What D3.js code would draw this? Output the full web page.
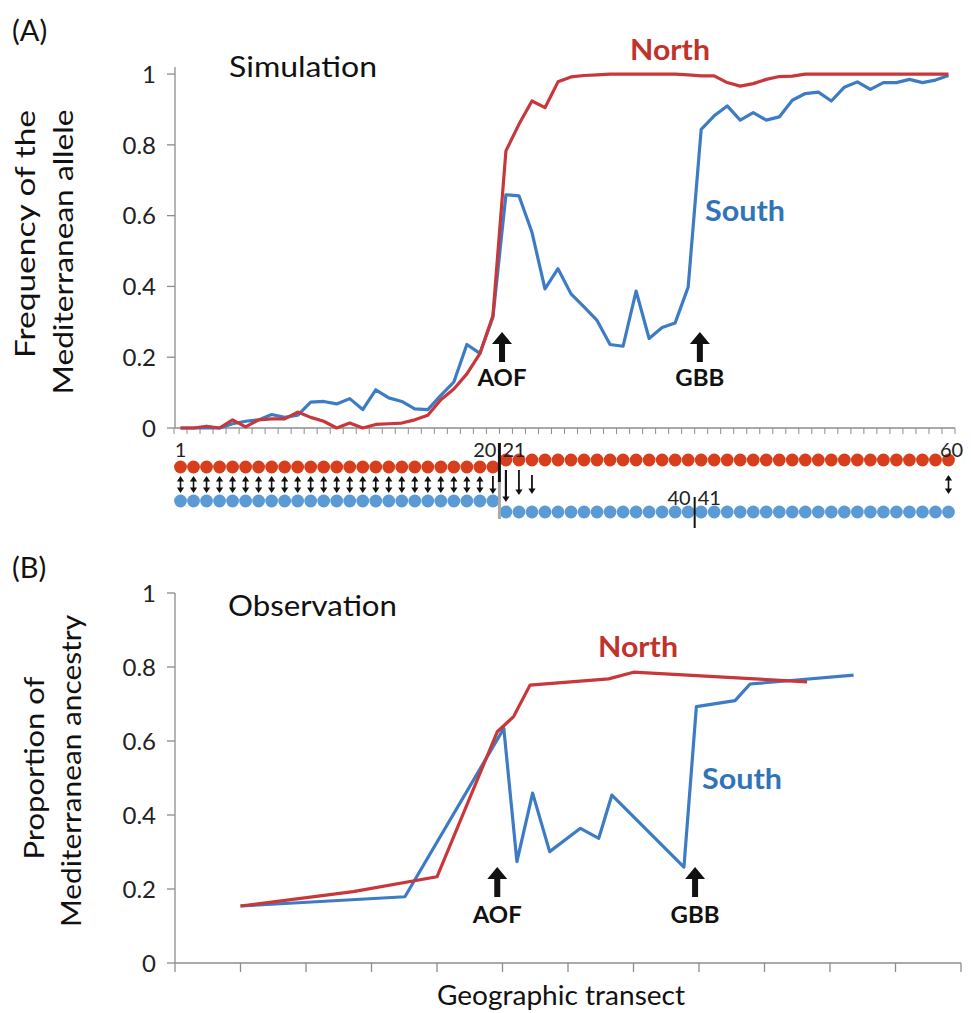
<!DOCTYPE html>
<html>
<head>
<meta charset="utf-8">
<script src="https://cdn.jsdelivr.net/npm/d3@7"></script>
<style>
  body { margin: 0; background: #fff; }
  text { font-family: Lato, "Open Sans", sans-serif; fill: #111; }
</style>
</head>
<body>
<svg id="chart" width="971" height="1013"></svg>
<script>
// ---- data: (A) simulation, demes 1..60 ----
var simNorth = [0, 0, 0.005, 0, 0.023, 0.003, 0.023, 0.026, 0.026, 0.045,
                0.03, 0.019, 0, 0.014, 0, 0.01, 0.012, 0.014, 0.023, 0.036,
                0.08, 0.11, 0.153, 0.21, 0.317, 0.783, 0.858, 0.924, 0.905, 0.978,
                0.992, 0.996, 0.998, 1, 1, 1, 1, 1, 1, 0.998,
                0.995, 0.995, 0.976, 0.966, 0.973, 0.985, 0.993, 0.994, 1, 1,
                1, 1, 1, 1, 1, 1, 1, 1, 1, 1];
var simSouth = [0, 0, 0, 0, 0.012, 0.019, 0.023, 0.038, 0.03, 0.036,
                0.073, 0.075, 0.068, 0.083, 0.052, 0.108, 0.085, 0.075, 0.054, 0.052,
                0.092, 0.13, 0.236, 0.211, 0.313, 0.659, 0.656, 0.553, 0.393, 0.45,
                0.379, 0.342, 0.304, 0.236, 0.231, 0.387, 0.253, 0.284, 0.297, 0.398,
                0.844, 0.882, 0.91, 0.87, 0.891, 0.87, 0.879, 0.926, 0.945, 0.949,
                0.924, 0.963, 0.978, 0.957, 0.976, 0.976, 0.985, 0.976, 0.983, 0.996];

// ---- data: (B) observation ----
var obsNorthX = [1.0, 2.72, 4.0, 4.92, 5.17, 5.42, 6.62, 7.0, 9.65];
var obsNorth  = [0.154, 0.193, 0.233, 0.625, 0.666, 0.751, 0.768, 0.786, 0.76];
var obsSouthX = [1.0, 3.51, 5.02, 5.22, 5.46, 5.72, 6.19, 6.47, 6.67, 7.77, 7.96, 8.55, 8.78, 10.36];
var obsSouth  = [0.154, 0.179, 0.634, 0.274, 0.459, 0.301, 0.364, 0.337, 0.454, 0.259, 0.693, 0.709, 0.754, 0.778];

var yTicks = [0, 0.2, 0.4, 0.6, 0.8, 1];
var yTickLabels = ["0", "0.2", "0.4", "0.6", "0.8", "1"];

// barrier markers (x in each panel's own units)
var simMarkers = [{ name: "AOF", x: 25.7 }, { name: "GBB", x: 40.9 }];
var obsMarkers = [{ name: "AOF", x: 4.92 }, { name: "GBB", x: 7.94 }];

// schematic demes under panel A
var demeIds = d3.range(1, 61);
var splitAfter = 25;               // north/south break in the dot rows
var bothArrows = [1, 2, 3, 4, 5, 6, 7, 8, 9, 10, 11, 12, 13, 14, 15, 16, 17, 18, 19, 20, 21, 22, 23, 24, 60];
var downArrows = [25, 26, 27, 28];
var demeLabels = [{ t: "1", i: 1 }, { t: "20", i: 25 }, { t: "21", i: 26 }, { t: "40", i: 40 }, { t: "41", i: 41 }, { t: "60", i: 60 }];

var RED = "#c8373a", BLUE = "#3d7cc4";
var RED_DOT = "#d83d1c", BLUE_DOT = "#5b9bd5";
var AXIS = "#8c8c8c";

var svg = d3.select("#chart");

// ================= panel A =================
var xA = d3.scaleLinear().domain([0.5, 60.5]).range([174, 955]);
var yA = d3.scaleLinear().domain([0, 1.02]).range([428, 67]);

var gA = svg.append("g");

// y axis
gA.append("line").attr("x1", 175).attr("x2", 175).attr("y1", yA(0)).attr("y2", yA(1.02))
  .attr("stroke", AXIS).attr("stroke-width", 1.3);
gA.selectAll("line.ytick").data(yTicks).enter().append("line")
  .attr("class", "ytick")
  .attr("x1", 167).attr("x2", 175)
  .attr("y1", function(d) { return yA(d) }).attr("y2", function(d) { return yA(d) })
  .attr("stroke", AXIS).attr("stroke-width", 1.3);
gA.selectAll("text.ylab").data(yTicks).enter().append("text")
  .attr("class", "ylab")
  .attr("x", 156).attr("y", function(d) { return yA(d) }).attr("dy", "0.36em")
  .attr("text-anchor", "end").style("font-size", "24px").style("fill", "#222")
  .text(function(d, i) { return yTickLabels[i] });

// x axis (category ticks between demes)
gA.append("line").attr("x1", 175).attr("x2", xA(60.5)).attr("y1", yA(0)).attr("y2", yA(0))
  .attr("stroke", AXIS).attr("stroke-width", 1.3);
gA.selectAll("line.xtick").data(d3.range(0, 61)).enter().append("line")
  .attr("class", "xtick")
  .attr("x1", function(d) { return xA(d + 0.5) }).attr("x2", function(d) { return xA(d + 0.5) })
  .attr("y1", yA(0)).attr("y2", yA(0) + 6)
  .attr("stroke", AXIS).attr("stroke-width", 1);

var lineA = d3.line()
  .x(function(d, i) { return xA(i + 1) })
  .y(function(d) { return yA(d) });

gA.append("path").datum(simSouth).attr("d", lineA)
  .attr("fill", "none").attr("stroke", BLUE).attr("stroke-width", 3.2).attr("stroke-linejoin", "round");
gA.append("path").datum(simNorth).attr("d", lineA)
  .attr("fill", "none").attr("stroke", RED).attr("stroke-width", 3.2).attr("stroke-linejoin", "round");

// ---- labels A ----
svg.append("text").attr("x", 12).attr("y", 41).style("font-size", "29px").text("(A)");
svg.append("text").attr("x", 229).attr("y", 77).style("font-size", "28px")
  .attr("textLength", 148).attr("lengthAdjust", "spacingAndGlyphs").text("Simulation");
svg.append("text").attr("x", 670).attr("y", 60).attr("text-anchor", "middle")
  .style("font-size", "28px").style("font-weight", "bold").style("fill", "#c0332b")
  .attr("textLength", 80).attr("lengthAdjust", "spacingAndGlyphs").text("North");
svg.append("text").attr("x", 745).attr("y", 221).attr("text-anchor", "middle")
  .style("font-size", "28px").style("font-weight", "bold").style("fill", "#2f74b8")
  .attr("textLength", 80).attr("lengthAdjust", "spacingAndGlyphs").text("South");

function yTitle(lines) {
  lines.forEach(function(l) {
    svg.append("text")
      .attr("transform", "translate(" + l.x + "," + l.y + ") rotate(-90)")
      .attr("text-anchor", "middle").style("font-size", "27px")
      .attr("textLength", l.len).attr("lengthAdjust", "spacingAndGlyphs")
      .text(l.t);
  });
}
yTitle([{ t: "Frequency of the", x: 35, y: 234, len: 248 },
        { t: "Mediterranean allele", x: 73, y: 252, len: 285 }]);

function upArrow(g, cx, top) {
  var p = d3.path();
  p.moveTo(cx, top);
  p.lineTo(cx + 10, top + 12);
  p.lineTo(cx + 3, top + 12);
  p.lineTo(cx + 3, top + 30);
  p.lineTo(cx - 3, top + 30);
  p.lineTo(cx - 3, top + 12);
  p.lineTo(cx - 10, top + 12);
  p.closePath();
  g.append("path").attr("d", p.toString()).attr("fill", "#111");
}
simMarkers.forEach(function(m) {
  upArrow(gA, xA(m.x), 332);
  gA.append("text").attr("x", xA(m.x)).attr("y", 386).attr("text-anchor", "middle")
    .style("font-size", "23px").style("font-weight", "bold")
    .attr("textLength", 49).attr("lengthAdjust", "spacingAndGlyphs").text(m.name);
});

// ---- deme dots ----
var gD = svg.append("g");
function redY(i) { return i <= splitAfter ? 467 : 460 }
function blueY(i) { return i <= splitAfter ? 501 : 512 }

gD.selectAll("circle.n").data(demeIds).enter().append("circle")
  .attr("class", "n").attr("cx", function(d) { return xA(d) }).attr("cy", redY)
  .attr("r", 6.4).attr("fill", RED_DOT);
gD.selectAll("circle.s").data(demeIds).enter().append("circle")
  .attr("class", "s").attr("cx", function(d) { return xA(d) }).attr("cy", blueY)
  .attr("r", 6.4).attr("fill", BLUE_DOT);

function head(p, x, y, dir) {
  p.moveTo(x, y);
  p.lineTo(x - 3.6, y - 5.5 * dir);
  p.lineTo(x + 3.6, y - 5.5 * dir);
  p.closePath();
}
bothArrows.forEach(function(i) {
  var x = xA(i), y1 = i <= splitAfter ? 476 : 475, y2 = i <= splitAfter ? 493 : 494;
  gD.append("line").attr("x1", x).attr("x2", x).attr("y1", y1 + 3).attr("y2", y2 - 3)
    .attr("stroke", "#111").attr("stroke-width", 1.6);
  var p = d3.path();
  head(p, x, y1, -1);
  head(p, x, y2, 1);
  gD.append("path").attr("d", p.toString()).attr("fill", "#111");
});
var downSpan = { 25: [476, 494], 26: [470, 502], 27: [470, 495], 28: [475, 494] };
downArrows.forEach(function(i) {
  var x = xA(i), s = downSpan[i];
  gD.append("line").attr("x1", x).attr("x2", x).attr("y1", s[0]).attr("y2", s[1] - 4)
    .attr("stroke", "#111").attr("stroke-width", i === 26 ? 2.2 : 1.8);
  var p = d3.path();
  head(p, x, s[1], 1);
  gD.append("path").attr("d", p.toString()).attr("fill", "#111");
});

// barrier bars in the deme schematic
gD.append("line").attr("x1", xA(25.5)).attr("x2", xA(25.5)).attr("y1", 481).attr("y2", 519)
  .attr("stroke", "#a9a9a9").attr("stroke-width", 3);
gD.append("line").attr("x1", xA(25.5)).attr("x2", xA(25.5)).attr("y1", 443).attr("y2", 482)
  .attr("stroke", "#111").attr("stroke-width", 3);
gD.append("line").attr("x1", xA(40.5)).attr("x2", xA(40.5)).attr("y1", 497).attr("y2", 528)
  .attr("stroke", "#111").attr("stroke-width", 2);

gD.selectAll("text.deme").data(demeLabels).enter().append("text")
  .attr("class", "deme")
  .attr("x", function(d) {
    if (d.t === "20") return xA(25.5) - 3;
    if (d.t === "21") return xA(25.5) + 3;
    if (d.t === "40") return xA(40.5) - 4;
    if (d.t === "41") return xA(40.5) + 3;
    if (d.t === "60") return xA(d.i) + 3;
    return xA(d.i);
  })
  .attr("y", function(d) { return (d.t === "40" || d.t === "41") ? 505 : 457 })
  .attr("text-anchor", function(d) {
    if (d.t === "20" || d.t === "40") return "end";
    if (d.t === "21" || d.t === "41") return "start";
    return "middle";
  })
  .style("font-size", "20px").style("fill", "#222")
  .text(function(d) { return d.t });

// ================= panel B =================
var xB = d3.scaleLinear().domain([0, 12]).range([175, 961]);
var yB = d3.scaleLinear().domain([0, 1]).range([963, 593]);
var gB = svg.append("g");

gB.append("line").attr("x1", 175).attr("x2", 175).attr("y1", yB(0)).attr("y2", yB(1))
  .attr("stroke", AXIS).attr("stroke-width", 1.3);
gB.selectAll("line.ytick").data(yTicks).enter().append("line")
  .attr("class", "ytick")
  .attr("x1", 167).attr("x2", 175)
  .attr("y1", function(d) { return yB(d) }).attr("y2", function(d) { return yB(d) })
  .attr("stroke", AXIS).attr("stroke-width", 1.3);
gB.selectAll("text.ylab").data(yTicks).enter().append("text")
  .attr("class", "ylab")
  .attr("x", 156).attr("y", function(d) { return yB(d) }).attr("dy", "0.36em")
  .attr("text-anchor", "end").style("font-size", "24px").style("fill", "#222")
  .text(function(d, i) { return yTickLabels[i] });

gB.append("line").attr("x1", 175).attr("x2", xB(12)).attr("y1", yB(0)).attr("y2", yB(0))
  .attr("stroke", AXIS).attr("stroke-width", 1.3);
gB.selectAll("line.xtick").data(d3.range(0, 13)).enter().append("line")
  .attr("class", "xtick")
  .attr("x1", function(d) { return xB(d) }).attr("x2", function(d) { return xB(d) })
  .attr("y1", yB(0)).attr("y2", yB(0) + 9)
  .attr("stroke", AXIS).attr("stroke-width", 1.3);

var lineB = d3.line()
  .x(function(d) { return xB(d[0]) })
  .y(function(d) { return yB(d[1]) });

gB.append("path").datum(d3.zip(obsSouthX, obsSouth)).attr("d", lineB)
  .attr("fill", "none").attr("stroke", BLUE).attr("stroke-width", 3.2).attr("stroke-linejoin", "round");
gB.append("path").datum(d3.zip(obsNorthX, obsNorth)).attr("d", lineB)
  .attr("fill", "none").attr("stroke", RED).attr("stroke-width", 3.2).attr("stroke-linejoin", "round");

svg.append("text").attr("x", 12).attr("y", 578).style("font-size", "29px").text("(B)");
svg.append("text").attr("x", 228).attr("y", 616).style("font-size", "28px")
  .attr("textLength", 169).attr("lengthAdjust", "spacingAndGlyphs").text("Observation");
svg.append("text").attr("x", 638).attr("y", 657).attr("text-anchor", "middle")
  .style("font-size", "28px").style("font-weight", "bold").style("fill", "#c0332b")
  .attr("textLength", 80).attr("lengthAdjust", "spacingAndGlyphs").text("North");
svg.append("text").attr("x", 742).attr("y", 789).attr("text-anchor", "middle")
  .style("font-size", "28px").style("font-weight", "bold").style("fill", "#2f74b8")
  .attr("textLength", 80).attr("lengthAdjust", "spacingAndGlyphs").text("South");

yTitle([{ t: "Proportion of", x: 44, y: 768, len: 183 },
        { t: "Mediterranean ancestry", x: 81, y: 771, len: 312 }]);

obsMarkers.forEach(function(m) {
  upArrow(gB, xB(m.x), 867);
  gB.append("text").attr("x", xB(m.x)).attr("y", 923).attr("text-anchor", "middle")
    .style("font-size", "23px").style("font-weight", "bold")
    .attr("textLength", 49).attr("lengthAdjust", "spacingAndGlyphs").text(m.name);
});

svg.append("text").attr("x", 561).attr("y", 1005).attr("text-anchor", "middle")
  .style("font-size", "26px").attr("textLength", 248).attr("lengthAdjust", "spacingAndGlyphs")
  .text("Geographic transect");
</script>
</body>
</html>
